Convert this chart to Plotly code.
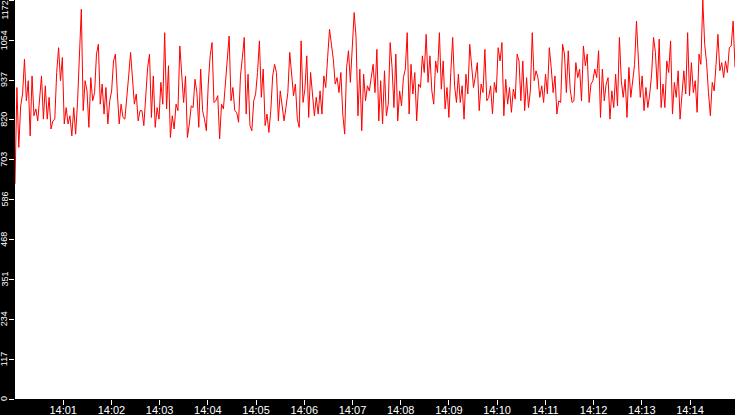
import plotly.graph_objects as go
import pandas as pd

START_TIME = "2024-01-01 14:00:00"
END_TIME = "2024-01-01 14:14:56"

# requests per interval (left to right)
values = [
    632, 915, 739, 861, 896, 998, 876, 935, 773, 949, 832, 852, 817, 886, 949, 822, 920, 822, 886, 793,
    817, 822, 959, 1032, 935, 1003, 808, 856, 808, 832, 773, 856, 778, 871, 1023, 1145, 847, 935, 905, 798,
    944, 876, 900, 1013, 1042, 866, 925, 837, 915, 808, 876, 905, 993, 1013, 900, 808, 866, 827,
    822, 876, 949, 1018, 925, 866, 896, 817, 847, 847, 803, 905, 974, 1013, 827, 949, 798, 856, 822, 930,
    866, 1076, 852, 979, 768, 832, 793, 866, 847, 1037, 964, 871, 949, 768, 808, 861, 856, 939, 900, 798,
    969, 847, 822, 788, 925, 1008, 1047, 871, 876, 891, 764, 866, 852, 920, 998, 1066, 876, 915, 847, 842,
    813, 949, 1003, 1062, 837, 954, 803, 788, 876, 896, 959, 1052, 886, 969, 803, 837, 783, 847, 949, 983,
    959, 817, 905, 861, 817, 856, 900, 1018, 954, 891, 925, 822, 798, 1052, 871, 910, 1008, 827, 959, 886,
    832, 886, 837, 905, 837, 949, 915, 1003, 1086, 1042, 998, 925, 944, 900, 959, 837, 778, 974, 1023, 930,
    1047, 1135, 1062, 832, 969, 788, 954, 876, 920, 905,
    944, 983, 900, 1027, 817, 935, 808, 964, 832, 866, 1047, 974, 856, 1013, 817, 905, 861, 944, 969, 1076,
    837, 983, 896, 959, 817, 925, 915, 1008, 959, 1071, 930, 1008, 905, 866, 993, 959, 1076, 910, 993, 852,
    915, 827, 959, 1062, 920, 871, 954, 871, 920, 822, 954, 896, 1042, 969, 915, 949, 988, 847, 925, 900,
    1027, 876,
    886, 920, 837, 930, 900, 1032, 993, 1047, 832, 939, 866, 915, 842, 910, 881, 1013, 993, 876, 993, 847,
    944, 856, 905, 1076, 935, 964, 944, 886, 920, 871, 954, 896, 1032, 974, 900, 949, 837, 876, 871, 1042,
    1013, 900, 1023, 910, 871, 876, 988, 944, 969, 876, 1037, 979, 1013, 871, 925, 935, 969, 944, 1023, 827,
    969, 876, 925,
    944, 822, 905, 856, 954, 861, 1062, 935, 886, 939, 827, 974, 886, 944, 983, 1110, 993, 886, 949, 847,
    915, 856, 896, 954, 1062, 1018, 910, 1057, 856, 925, 856, 993, 959, 1052, 837, 930, 886, 964, 822, 910,
    964, 896, 1076, 891, 988, 900, 935, 842, 1013, 983, 1172, 1042, 988, 900, 832, 930, 905, 983, 1071, 964,
    988, 944, 993, 959, 1032, 1037, 1110, 974,
]

x_tick_labels = ["14:01", "14:02", "14:03", "14:04", "14:05", "14:06", "14:07",
                 "14:08", "14:09", "14:10", "14:11", "14:12", "14:13", "14:14"]
y_tick_labels = ["0", "117", "234", "351", "468", "586", "703", "820", "937", "1054", "1172"]

times = pd.date_range(START_TIME, END_TIME, periods=len(values))
y_max = max(values)

fig = go.Figure(go.Scatter(
    x=times, y=values, mode="lines",
    line=dict(color="#ff0000", width=1),
    hoverinfo="skip",
))

# y labels as rotated annotations, so the top one stays inside the page
for lab in y_tick_labels:
    v = float(lab)
    fig.add_annotation(
        x=0, xref="paper", xanchor="right", xshift=-5,
        y=v, yref="y", yanchor="top" if v == y_max else "middle",
        text=lab, textangle=-90, showarrow=False,
        font=dict(family="Liberation Sans", size=9, color="white"),
        borderpad=0,
    )

fig.update_layout(
    width=735, height=415,
    margin=dict(l=15, r=0, t=0, b=16, autoexpand=False),
    paper_bgcolor="black", plot_bgcolor="white",
    showlegend=False,
    font=dict(family="Liberation Sans", size=11, color="white"),
)
fig.update_xaxes(
    range=[times[0], times[-1]],
    tickvals=[pd.Timestamp("2024-01-01 " + t) for t in x_tick_labels],
    ticktext=x_tick_labels,
    ticks="outside", ticklen=5, tickcolor="white", tickwidth=1,
    ticklabelstandoff=-4,
    showgrid=False, zeroline=False, showline=False, automargin=False,
)
fig.update_yaxes(
    range=[0, y_max],
    tickvals=[float(t) for t in y_tick_labels],
    showticklabels=False,
    ticks="outside", ticklen=5, tickcolor="white", tickwidth=1,
    showgrid=False, zeroline=False, showline=False, automargin=False,
)

# drop the default 8px body margin so the figure fills the window
fig.write_html("out.html", config={"displayModeBar": False},
               post_script="document.body.style.margin='0';document.body.style.overflow='hidden';")
